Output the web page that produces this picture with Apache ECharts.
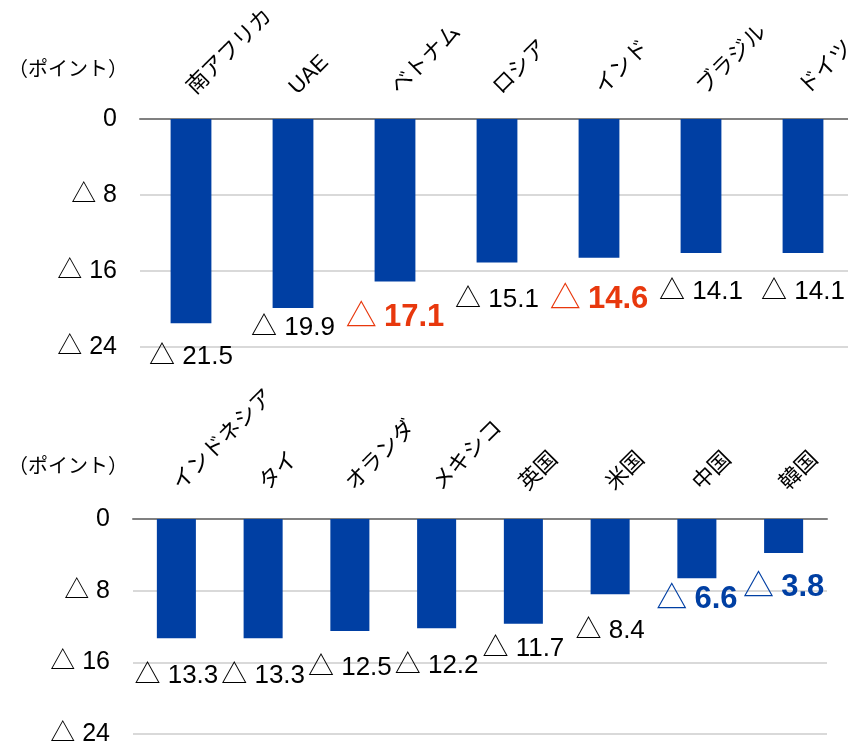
<!DOCTYPE html>
<html>
<head>
<meta charset="utf-8">
<script src="https://cdn.jsdelivr.net/npm/echarts@6/dist/echarts.min.js"></script>
<style>
  html, body { margin: 0; padding: 0; background: #fff; }
  #chart { width: 848px; height: 742px; }
</style>
</head>
<body>
<div id="chart"></div>
<script>
// 上段
const topCats = ['南アフリカ', 'UAE', 'ベトナム', 'ロシア', 'インド', 'ブラジル', 'ドイツ'];
const topVals = [21.5, 19.9, 17.1, 15.1, 14.6, 14.1, 14.1];
// 下段
const botCats = ['インドネシア', 'タイ', 'オランダ', 'メキシコ', '英国', '米国', '中国', '韓国'];
const botVals = [13.3, 13.3, 12.5, 12.2, 11.7, 8.4, 6.6, 3.8];
const yTicks = [0, 8, 16, 24];
const unitLabel = '（ポイント）';

const FONT = '"Liberation Sans", "Noto Sans CJK JP", sans-serif';
const BAR = '#003fa3';
const RED = '#e8380d';

// emphasized labels: category -> colour
const hiRed = ['ベトナム', 'インド'];
const hiBlue = ['中国', '韓国'];
// label distance below bar end (hand placed in original)
const labelGap = {
  '南アフリカ': 21, 'UAE': 7, 'ベトナム': 20, 'ロシア': 24, 'インド': 26, 'ブラジル': 26, 'ドイツ': 26,
  'インドネシア': 25, 'タイ': 25, 'オランダ': 24, 'メキシコ': 25, '英国': 12, '米国': 24, '中国': 5, '韓国': 18
};

function buildData(cats, vals) {
  return vals.map((v, i) => {
    const c = cats[i];
    const color = hiRed.includes(c) ? RED : (hiBlue.includes(c) ? BAR : null);
    const label = { distance: labelGap[c] };
    if (color) {
      label.formatter = p => '{t|△} {n|' + p.value.toFixed(1) + '}';
      label.rich = {
        t: { fontSize: 31, color: color, fontFamily: FONT, lineHeight: 32 },
        n: { fontSize: 31, color: color, fontWeight: 'bold', fontFamily: FONT, lineHeight: 32 }
      };
    }
    return { value: v, label: label };
  });
}

const yFmt = v => v === 0 ? '0' : '△ ' + v;

function xAxisOpt(idx, cats, margin) {
  return {
    gridIndex: idx,
    type: 'category',
    position: 'top',
    data: cats,
    axisTick: { show: false },
    axisLine: { lineStyle: { color: '#808080', width: 2 } },
    axisLabel: { rotate: 45, margin: margin, fontSize: 22, color: '#000', fontFamily: FONT, interval: 0 }
  };
}

function yAxisOpt(idx) {
  return {
    gridIndex: idx,
    type: 'value',
    inverse: true,
    min: yTicks[0],
    max: yTicks[yTicks.length - 1],
    interval: yTicks[1] - yTicks[0],
    axisLine: { show: false },
    axisTick: { show: false },
    splitLine: { lineStyle: { color: '#d9d9d9', width: 2 } },
    axisLabel: { formatter: yFmt, fontSize: 25, color: '#000', fontFamily: FONT, margin: 23 }
  };
}

function seriesOpt(idx, cats, vals, width) {
  return {
    type: 'bar',
    xAxisIndex: idx,
    yAxisIndex: idx,
    barWidth: width,
    itemStyle: { color: BAR },
    label: {
      show: true,
      position: 'bottom',
      formatter: p => '△ ' + p.value.toFixed(1),
      fontSize: 26,
      lineHeight: 26,
      color: '#000',
      fontFamily: FONT
    },
    data: buildData(cats, vals)
  };
}

const chart = echarts.init(document.getElementById('chart'));
chart.setOption({
  animation: false,
  grid: [
    { left: 140, right: -6, top: 119, height: 228, outerBoundsMode: 'none' },
    { left: 133, right: 21, top: 519, height: 215, outerBoundsMode: 'none' }
  ],
  xAxis: [xAxisOpt(0, topCats, 28), xAxisOpt(1, botCats, 32)],
  yAxis: [yAxisOpt(0), yAxisOpt(1)],
  series: [seriesOpt(0, topCats, topVals, '40%'), seriesOpt(1, botCats, botVals, '45%')],
  graphic: [
    { type: 'text', left: 8, top: 60, style: { text: unitLabel, fontSize: 20, fill: '#000', fontFamily: FONT } },
    { type: 'text', left: 8, top: 457, style: { text: unitLabel, fontSize: 20, fill: '#000', fontFamily: FONT } }
  ]
});
</script>
</body>
</html>
